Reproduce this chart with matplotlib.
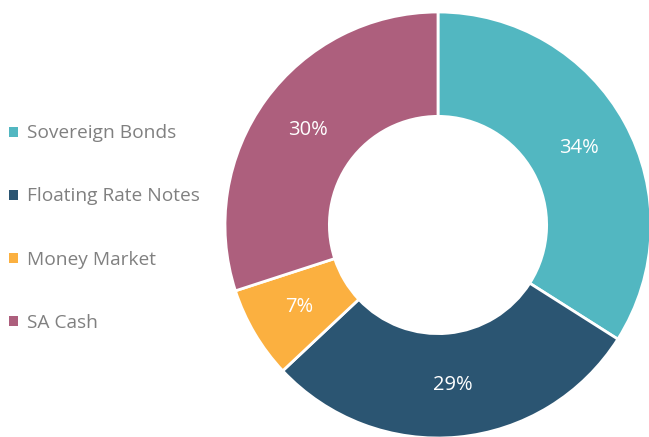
import matplotlib
matplotlib.use("Agg")
import matplotlib.pyplot as plt
from matplotlib.patches import Patch

plt.rcParams['font.family'] = ['Open Sans', 'DejaVu Sans']

categories = ["Sovereign Bonds", "Floating Rate Notes", "Money Market", "SA Cash"]
values = [34, 29, 7, 30]
colors = ["#52B7C1", "#2B5572", "#FBB040", "#AD5F7D"]

W, H = 649, 437
fig = plt.figure(figsize=(W / 100, H / 100), dpi=100)

# donut: centre (438, 225) px, outer radius 213 px
cx, cy, r = 438, 225, 213
ax = fig.add_axes([(cx - r) / W, (H - cy - r) / H, 2 * r / W, 2 * r / H])
wedges, texts, autotexts = ax.pie(
    values, colors=colors, startangle=90, counterclock=False,
    radius=1.0, autopct="%d%%", pctdistance=0.755,
    wedgeprops=dict(width=0.49, edgecolor="white", linewidth=2.0),
    textprops=dict(color="white", fontsize=14.5))
ax.set_xlim(-1, 1)
ax.set_ylim(-1, 1)
ax.set_aspect("equal")
ax.axis("off")

handles = [Patch(facecolor=c, edgecolor="none") for c in colors]
leg = fig.legend(handles, categories, loc="center left",
                 bbox_to_anchor=(-0.012, (H - 228) / H), frameon=False,
                 fontsize=13.8, handlelength=0.42, handleheight=0.42,
                 handletextpad=0.47, labelspacing=2.35)
for t in leg.get_texts():
    t.set_color("#808080")

fig.savefig("out.png", dpi=100)
